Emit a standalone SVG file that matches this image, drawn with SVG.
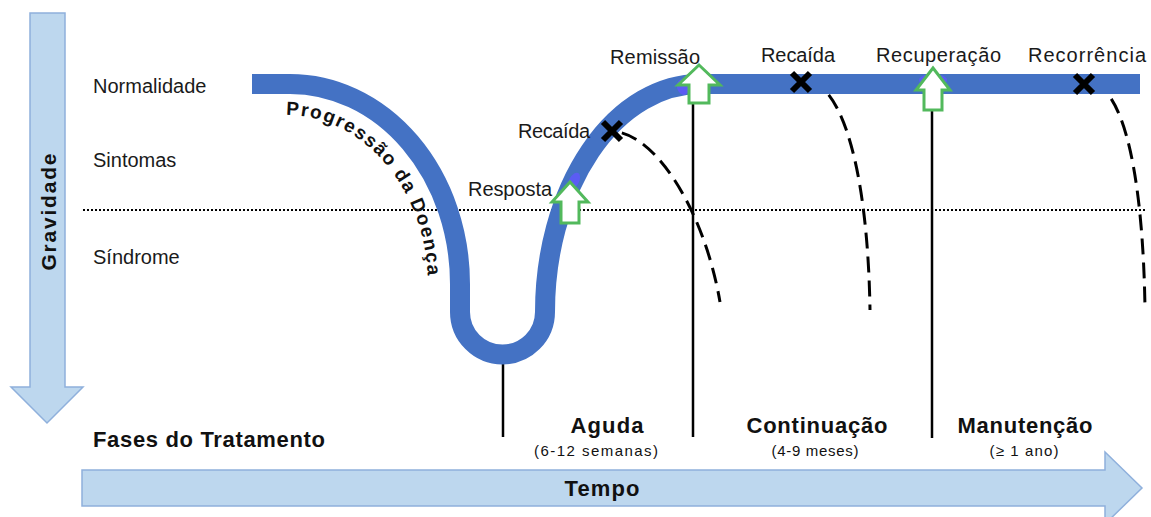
<svg xmlns="http://www.w3.org/2000/svg" width="1151" height="517" viewBox="0 0 1151 517">
<style>
.lbl{font-family:"Liberation Sans",Arial,sans-serif;font-size:20px;fill:#1a1a1a}
.bold{font-family:"Liberation Sans",Arial,sans-serif;font-weight:bold;fill:#111}
.small{font-family:"Liberation Sans",Arial,sans-serif;font-size:15px;fill:#111}
.axis{fill:#bdd7ee;stroke:#8fb0dc;stroke-width:1.5}
.up{fill:#fff;stroke:#52b95c;stroke-width:3;stroke-linejoin:miter}
.x{stroke:#000;stroke-width:6;fill:none}
.dash{fill:none;stroke:#000;stroke-width:3;stroke-dasharray:16 8}
.solid{stroke:#000;stroke-width:2.5}
.hl{fill:#5b5cf3}
</style>
<defs>
<path id="progPath" d="M 286 115 A 142 170 0 0 1 428 285"/>
</defs>

<g id="axis-gravidade">
<polygon class="axis" points="30,13 65,13 65,387 83,387 47,423 11,387 30,387"/>
<text class="bold" font-size="21" transform="translate(47,212) rotate(-90)" x="0" y="9" text-anchor="middle" textLength="117">Gravidade</text>
</g>

<g id="axis-tempo">
<polygon class="axis" points="82,470 1105,470 1105,452 1142,488 1105,524 1105,506 82,506"/>
<text class="bold" font-size="22" x="602" y="496" text-anchor="middle" textLength="75">Tempo</text>
</g>

<g id="levels">
<text class="lbl" font-size="21" x="93" y="93">Normalidade</text>
<text class="lbl" font-size="21" x="93" y="167">Sintomas</text>
<text class="lbl" font-size="21" x="93" y="264">Síndrome</text>
<line x1="83" y1="210" x2="1146" y2="210" stroke="#000" stroke-width="2" stroke-dasharray="2 2"/>
</g>

<g id="connectors">
<line class="solid" x1="503" y1="355" x2="503" y2="437" stroke-width="3"/>
<line class="solid" x1="693" y1="100" x2="693" y2="437"/>
<line class="solid" x1="932" y1="108" x2="932" y2="438" stroke-width="3"/>
<path class="dash" d="M 618 132 C 660 140 705 215 720 302" stroke-dashoffset="-4"/>
<path class="dash" d="M 806 80 C 845 85 868 180 870 310" stroke-dashoffset="-4"/>
<path class="dash" d="M 1090 82 C 1125 88 1143 180 1145 308" stroke-dashoffset="-4"/>
</g>

<g id="curve">
<path d="M 252 84 H 290 A 170 200 0 0 1 460 284 L 460 312 A 42.5 42.5 0 0 0 545 312 A 155 228 0 0 1 700 84 H 1140" fill="none" stroke="#4472c4" stroke-width="20"/>
<ellipse class="hl" cx="574" cy="181" rx="9" ry="5" transform="rotate(-62 574 181)"/>
<ellipse class="hl" cx="683" cy="87" rx="6" ry="8" transform="rotate(-15 683 87)"/>
<ellipse class="hl" cx="933" cy="80" rx="14" ry="6"/>
<text class="bold" font-size="19"><textPath href="#progPath" textLength="236" lengthAdjust="spacing">Progressão da Doença</textPath></text>
</g>

<g id="resposta">
<polygon class="up" points="570,182 588,202 579,202 579,223 561,223 561,202 552,202"/>
<text class="lbl" x="468" y="196" textLength="84">Resposta</text>
</g>

<g id="remissao">
<polygon class="up" points="699,65 720,85 709,85 709,103 689,103 689,85 678,85"/>
<text class="lbl" x="610" y="64" textLength="90">Remissão</text>
</g>

<g id="recaida-1">
<path class="x" d="M 603 122 L 621 140 M 621 122 L 603 140"/>
<text class="lbl" x="518" y="138" textLength="72">Recaída</text>
</g>

<g id="recaida-2">
<path class="x" d="M 792 73 L 810 91 M 810 73 L 792 91"/>
<text class="lbl" x="761" y="62" textLength="74">Recaída</text>
</g>

<g id="recuperacao">
<polygon class="up" points="933,68 950,90 942,90 942,110 924,110 924,90 916,90"/>
<text class="lbl" x="876" y="62" textLength="125">Recuperação</text>
</g>

<g id="recorrencia">
<path class="x" d="M 1075 75 L 1093 93 M 1093 75 L 1075 93"/>
<text class="lbl" x="1028" y="62" textLength="118">Recorrência</text>
</g>

<g id="fases">
<text class="bold" font-size="22" x="93" y="447" textLength="232">Fases do Tratamento</text>
</g>

<g id="fase-aguda">
<text class="bold" font-size="22" x="607" y="433" text-anchor="middle" textLength="73">Aguda</text>
<text class="small" x="596" y="456" text-anchor="middle" textLength="124">(6-12 semanas)</text>
</g>

<g id="fase-continuacao">
<text class="bold" font-size="22" x="817" y="433" text-anchor="middle" textLength="141">Continuação</text>
<text class="small" x="815" y="456" text-anchor="middle" textLength="87">(4-9 meses)</text>
</g>

<g id="fase-manutencao">
<text class="bold" font-size="22" x="1025" y="433" text-anchor="middle" textLength="135">Manutenção</text>
<text class="small" x="1024" y="456" text-anchor="middle" textLength="69">(≥ 1 ano)</text>
</g>
</svg>
